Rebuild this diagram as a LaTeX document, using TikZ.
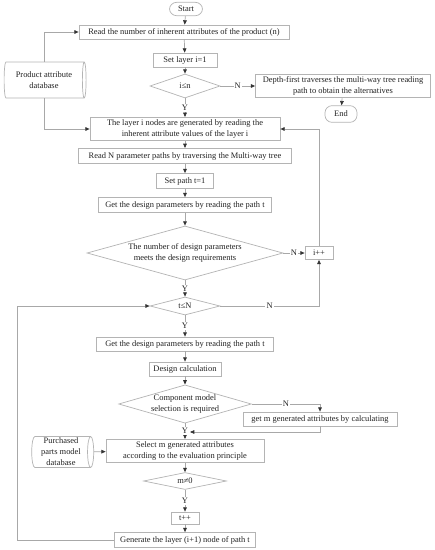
\documentclass[tikz,border=0pt]{standalone}
\usepackage{fontspec}
\setmainfont{Liberation Serif}
\usetikzlibrary{arrows.meta,shapes.geometric}
\definecolor{ink}{HTML}{222222}
\definecolor{edge}{HTML}{B4B4B4}
\definecolor{wire}{HTML}{A8A8A8}
\definecolor{tip}{HTML}{333333}
\newcommand{\chartfont}{\fontsize{7.2}{9.4}\selectfont}
\tikzset{
 every node/.append style={font=\chartfont,text=ink,align=center},
 box/.style={draw=edge,fill=white,line width=.6pt,inner sep=2pt},
 term/.style={box,rounded corners=6pt},
 decide/.style={box,diamond,inner sep=0pt},
 store/.style={box,cylinder,aspect=.22,inner sep=0pt},
 tag/.style={fill=white,inner sep=1pt},
 flow/.style={-{Triangle[length=1.3mm,width=1.1mm,color=tip]},draw=wire,line width=.6pt},
 route/.style={draw=wire,line width=.6pt},
}
\begin{document}
\begin{tikzpicture}[x=.03cm,y=-.03cm]

\useasboundingbox (0,0) rectangle (434,550);
% main column
\node[term,minimum width=.99cm,minimum height=.4cm] (start) at (186,9) {Start};
\node[box,minimum width=6.3cm,minimum height=.42cm] (read) at (184,32) {Read the number of inherent attributes of the product (n)};
\node[box,minimum width=1.92cm,minimum height=.42cm] (layer1) at (185,60) {Set layer i=1};
\node[decide,aspect=2.9,minimum width=2.1cm,minimum height=.72cm] (ilen) at (185,86) {i≤n};
\node[box,minimum width=5.25cm,minimum height=.63cm] (depth) at (343,86) {Depth-first traverses the multi-way tree reading\\path to obtain the alternatives};
\node[term,minimum width=.96cm,minimum height=.5cm] (end) at (341,114) {End};
% cylinder sizes are given in its own frame: height runs along the axis
\node[store,minimum width=1.08cm,minimum height=2.46cm] (pdb) at (44,80) {Product attribute\\database};
\node[box,minimum width=5.7cm,minimum height=.66cm] (gen) at (185,129) {The layer i nodes are generated by reading the\\inherent attribute values of the layer i};
\node[box,minimum width=6.39cm,minimum height=.46cm] (readn) at (185,156) {Read N parameter paths by traversing the Multi-way tree};
\node[box,minimum width=1.71cm,minimum height=.45cm] (path1) at (185,181) {Set path t=1};
\node[box,minimum width=5.19cm,minimum height=.45cm] (getp) at (185,205) {Get the design parameters by reading the path t};
\node[decide,aspect=3.63,minimum width=5.88cm,minimum height=1.62cm] (req) at (185,253) {The number of design parameters\\meets the design requirements};
\node[box,minimum width=.84cm,minimum height=.39cm] (inci) at (319,253) {i++};
\node[decide,aspect=3.9,minimum width=2.1cm,minimum height=.54cm] (tlen) at (185,306) {t≤N};
\node[box,minimum width=5.31cm,minimum height=.42cm] (getp2) at (185,344) {Get the design parameters by reading the path t};
\node[box,minimum width=2.16cm,minimum height=.42cm] (calc) at (185,369) {Design calculation};
\node[decide,aspect=3.47,minimum width=3.75cm,minimum height=1.08cm] (comp) at (185,404) {Component model\\selection is required};
\node[box,minimum width=4.62cm,minimum height=.42cm] (getm) at (320,419) {get m generated attributes by calculating};
\node[box,minimum width=4.74cm,minimum height=.66cm] (sel) at (185,451) {Select m generated attributes\\according to the evaluation principle};
\node[store,minimum width=.93cm,minimum height=1.86cm] (pdb2) at (61,452) {Purchased\\parts model\\database};
\node[decide,aspect=4.9,minimum width=2.49cm,minimum height=.51cm] (mne) at (185,481) {m≠0};
\node[box,minimum width=.84cm,minimum height=.36cm] (inct) at (185,518) {t++};
\node[box,minimum width=4.23cm,minimum height=.45cm] (next) at (185,540) {Generate the layer (i+1) node of path t};
\coordinate (join) at (190,432);

% arrows
\draw[flow] (start) -- (read);
\draw[flow] (read) -- (layer1);
\draw[flow] (layer1) -- (ilen);
\draw[flow] (ilen) -- node[tag] {N} (depth);
\draw[flow] (depth) -- (end);
\draw[flow] (ilen) -- node[tag] {Y} (gen);
\draw[flow] (pdb.north) |- (read.west);
\draw[flow] (pdb.south) |- (gen.west);
\draw[flow] (gen) -- (readn);
\draw[flow] (readn) -- (path1);
\draw[flow] (path1) -- (getp);
\draw[flow] (getp) -- (req);
\draw[flow] (req) -- node[tag] {N} (inci);
\draw[flow] (inci.north) |- (gen.east);
\draw[flow] (req) -- node[tag] {Y} (tlen);
\draw[flow] (tlen.east) -- node[tag] {N} (inci |- tlen) -- (inci.south);
\draw[flow] (tlen) -- node[tag] {Y} (getp2);
\draw[flow] (getp2) -- (calc);
\draw[flow] (calc) -- (comp);
\draw[flow] (comp.east) -- node[tag] {N} (getm |- comp) -- (getm.north);
\draw[flow] (comp) -- node[tag] {Y} (sel);
\draw[flow] (getm.south) |- (join);
\draw[flow] (pdb2) -- (sel);
\draw[flow] (sel) -- (mne);
\draw[flow] (mne) -- node[tag] {Y} (inct);
\draw[flow] (inct) -- (next);
\draw[flow] (next.west) -- ++(-97,0) |- (tlen.west);

\end{tikzpicture}
\end{document}
